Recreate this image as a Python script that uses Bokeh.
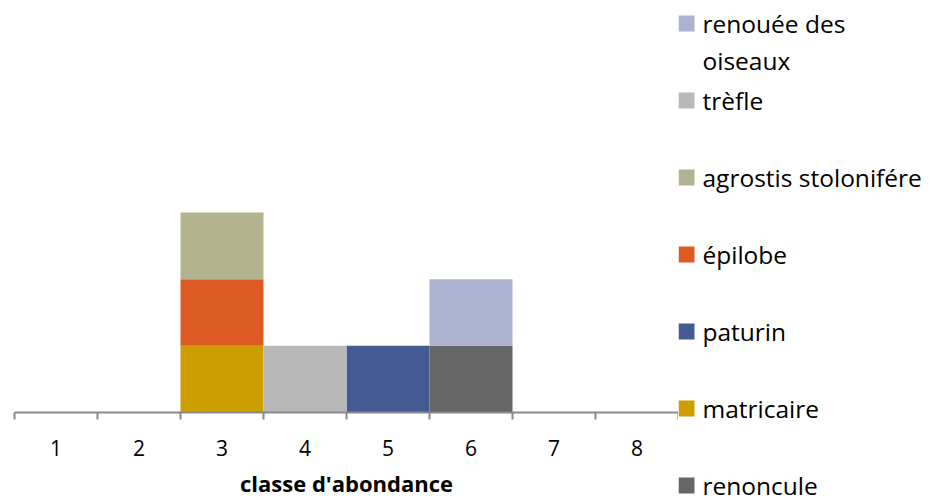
from bokeh.plotting import figure
from bokeh.layouts import row
from bokeh.models import Range1d, FixedTicker, ColumnDataSource
from bokeh.core.properties import value
from bokeh.embed import file_html
from bokeh.resources import INLINE

# ---- data ----
categories = ["1", "2", "3", "4", "5", "6", "7", "8"]
# series in stacking order (bottom first)
series_names = ["renoncule", "matricaire", "paturin", "épilobe",
                "agrostis stolonifére", "trèfle", "renouée des oiseaux"]
renoncule = [0, 0, 0, 0, 0, 1, 0, 0]
matricaire = [0, 0, 1, 0, 0, 0, 0, 0]
paturin = [0, 0, 0, 0, 1, 0, 0, 0]
epilobe = [0, 0, 1, 0, 0, 0, 0, 0]
agrostis = [0, 0, 1, 0, 0, 0, 0, 0]
trefle = [0, 0, 0, 1, 0, 0, 0, 0]
renouee = [0, 0, 0, 0, 0, 1, 0, 0]
series_values = [renoncule, matricaire, paturin, epilobe, agrostis, trefle, renouee]
colors = ["#666666", "#CC9E00", "#435A93", "#DD5A23", "#B3B48F", "#B8B8B8", "#ACB3D0"]
# legend (top to bottom, as shown)
legend_labels = ["renouée des\noiseaux", "trèfle", "agrostis stolonifére",
                 "épilobe", "paturin", "matricaire", "renoncule"]
legend_colors = colors[::-1]
x_title = "classe d'abondance"

FONT = "Open Sans"
AXIS_GREY = "#898989"
H = 500

xs = list(range(1, len(categories) + 1))
data = {"x": xs}
keys = []
for i, vals in enumerate(series_values):
    k = "s%d" % i
    keys.append(k)
    data[k] = vals
source = ColumnDataSource(data)

p = figure(width=678, height=H, output_backend="svg", toolbar_location=None,
           x_range=Range1d(0.5, len(categories) + 0.5), y_range=Range1d(0, 6),
           y_axis_location=None, min_border_left=14, min_border_right=0,
           min_border_top=12, min_border_bottom=88)
p.vbar_stack(keys, x="x", width=1.0, source=source, color=colors, line_color=None)

p.xgrid.visible = False
p.ygrid.visible = False
p.outline_line_color = None
p.background_fill_color = "white"
p.border_fill_color = "white"

ax = p.xaxis[0]
ax.ticker = FixedTicker(ticks=xs, minor_ticks=[x - 0.5 for x in xs] + [xs[-1] + 0.5])
ax.major_label_overrides = {x: c for x, c in zip(xs, categories)}
ax.axis_line_color = AXIS_GREY
ax.axis_line_width = 2
ax.major_tick_in = 0
ax.major_tick_out = 0
ax.major_tick_line_color = None
ax.minor_tick_in = 0
ax.minor_tick_out = 7
ax.minor_tick_line_color = AXIS_GREY
ax.minor_tick_line_width = 2
ax.major_label_text_font = FONT
ax.major_label_text_font_size = "21px"
ax.major_label_text_color = "#000000"
ax.major_label_standoff = 20
ax.axis_label = x_title
ax.axis_label_text_font = FONT
ax.axis_label_text_font_size = "22px"
ax.axis_label_text_font_style = "bold"
ax.axis_label_text_color = "#000000"
ax.axis_label_standoff = 9

# ---- legend figure ----
LW = 254
lg = figure(width=LW, height=H, output_backend="svg", toolbar_location=None,
            x_range=Range1d(0, LW), y_range=Range1d(H, 0),
            x_axis_location=None, y_axis_location=None,
            min_border=0, min_border_left=0, min_border_right=0,
            min_border_top=0, min_border_bottom=0)
lg.xgrid.visible = False
lg.ygrid.visible = False
lg.outline_line_color = None
lg.background_fill_color = "white"
lg.border_fill_color = "white"
for fig in (p, lg):
    if hasattr(fig, "frame_align"):
        fig.frame_align = False

y0, step = 23, 77
ycent = [y0 + i * step for i in range(len(legend_labels))]
lsrc = ColumnDataSource(dict(
    xs=[8] * len(legend_labels), y=ycent,
    xt=[24] * len(legend_labels), yt=[y - 17 for y in ycent],
    label=legend_labels, color=legend_colors))
lg.rect(x="xs", y="y", width=16, height=16, color="color", line_color=None, source=lsrc)
lg.text(x="xt", y="yt", text="label", source=lsrc, text_font=value(FONT),
        text_font_size="24.5px", text_color="#000000", text_baseline="top",
        text_align="left", text_line_height=1.13)

layout = row(p, lg)
open("out.html", "w").write(file_html(layout, INLINE))
